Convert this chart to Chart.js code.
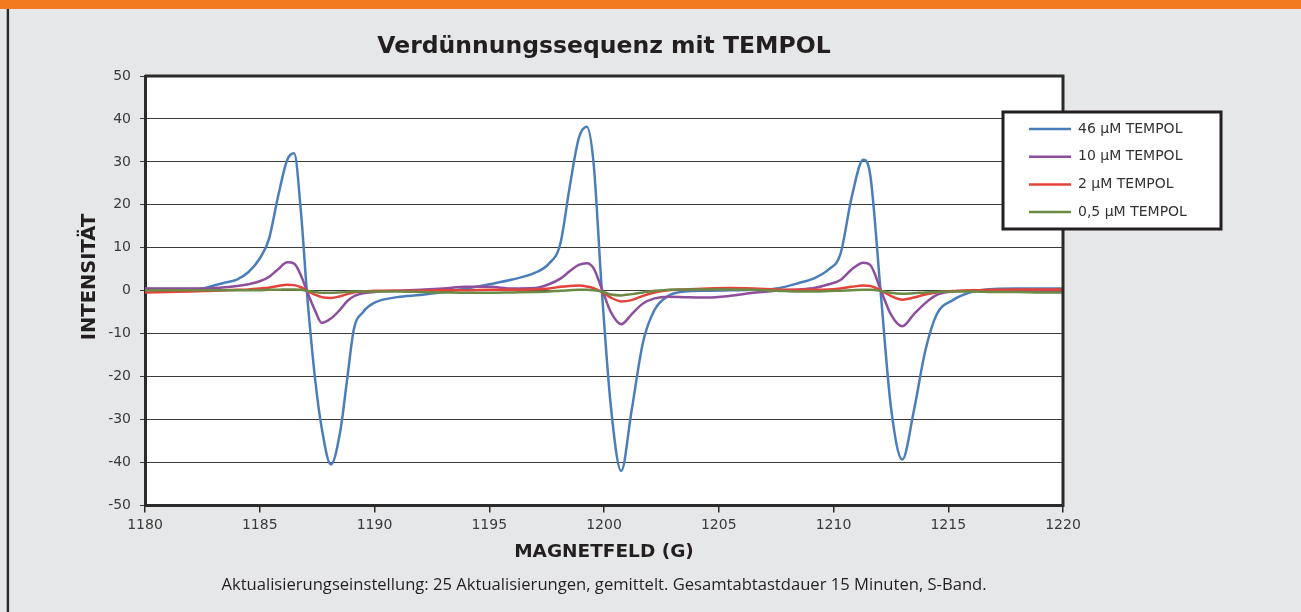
<!DOCTYPE html>
<html><head><meta charset="utf-8">
<script src="https://cdn.jsdelivr.net/npm/chart.js@4/dist/chart.umd.min.js"></script>
<style>html,body{margin:0;padding:0;background:#e6e7e8;}canvas{display:block;}</style>
</head><body>
<canvas id="c" width="1301" height="612"></canvas>
<script>
// ---- data ----
const magneticField = [1180, 1181, 1182, 1182.6, 1183, 1183.5, 1184, 1184.5, 1185, 1185.4,
  1185.8, 1186.2, 1186.5, 1186.8, 1187.05, 1187.4, 1187.7, 1188.1, 1188.5, 1188.8,
  1189.1, 1189.5, 1190, 1191, 1192, 1193, 1194, 1195, 1196, 1197,
  1197.6, 1198.1, 1198.5, 1198.9, 1199.25, 1199.55, 1199.9, 1200.3, 1200.75, 1201.2,
  1201.7, 1202.2, 1202.8, 1203.5, 1204.5, 1205.5, 1206.5, 1207.5, 1208.5, 1209.2,
  1209.8, 1210.3, 1210.8, 1211.3, 1211.6, 1212.05, 1212.5, 1213.0, 1213.5, 1214.0,
  1214.5, 1215.2, 1216, 1217, 1218, 1219, 1220];
const tempol46 = [0.4, 0.4, 0.4, 0.6, 1.2, 1.9, 2.6, 4.3, 7.5, 12,
  22, 30.5, 32, 18, 0, -20, -32, -40.5, -33, -21,
  -9, -5, -2.8, -1.5, -1.0, -0.3, 0.5, 1.5, 2.6, 4.2,
  6.3, 11, 24, 35.5, 38.2, 29.5, 0.5, -27, -42, -28,
  -12, -4.5, -1.2, -0.2, 0, 0.1, 0.2, 0.5, 1.8, 3,
  5, 8.5, 22, 30.5, 27, 0, -27, -39.3, -28, -14,
  -5.5, -2.2, -0.3, 0.4, 0.5, 0.5, 0.5];
const tempol10 = [0.5, 0.5, 0.5, 0.5, 0.6, 0.8, 1.1, 1.5, 2.2, 3.2,
  5, 6.6, 6.3, 3.5, 0, -4.5, -7.5, -6.5, -4.4, -2.5,
  -1.3, -0.6, -0.3, 0, 0.2, 0.5, 0.9, 0.9, 0.5, 0.6,
  1.5, 2.8, 4.5, 6, 6.4, 5.2, 0.5, -5, -7.8, -5.5,
  -3, -1.8, -1.4, -1.5, -1.6, -1.2, -0.5, 0, 0.3, 0.7,
  1.5, 2.5, 5, 6.5, 6, 0.3, -5.5, -8.3, -5.5, -2.9,
  -1, -0.2, 0, 0.1, 0.1, 0, 0];
const tempol2 = [-0.4, -0.3, -0.2, -0.1, 0, 0.1, 0.2, 0.3, 0.5, 0.7,
  1.1, 1.4, 1.3, 0.8, 0, -0.9, -1.5, -1.7, -1.3, -0.8,
  -0.4, -0.2, 0, 0, 0, 0.1, 0.1, 0.2, 0.2, 0.3,
  0.5, 0.9, 1.1, 1.2, 1, 0.6, -0.3, -1.6, -2.5, -2.2,
  -1.2, -0.4, 0.1, 0.3, 0.5, 0.6, 0.5, 0.3, 0.2, 0.2,
  0.3, 0.5, 0.9, 1.2, 1.1, 0.1, -1.2, -2.1, -1.6, -0.9,
  -0.4, -0.1, 0.1, 0.2, 0.3, 0.3, 0.3];
const tempol05 = [0.1, 0.1, 0.1, 0.1, 0.1, 0.1, 0.1, 0.1, 0.1, 0.2,
  0.2, 0.3, 0.3, 0.2, 0, -0.3, -0.5, -0.5, -0.4, -0.3,
  -0.2, -0.2, -0.2, -0.2, -0.3, -0.4, -0.5, -0.5, -0.4, -0.3,
  -0.2, 0, 0.1, 0.2, 0.2, 0.1, -0.2, -0.9, -1.1, -0.8,
  -0.4, 0, 0.2, 0.3, 0.3, 0.3, 0.2, 0, -0.2, -0.2,
  -0.1, 0, 0.1, 0.2, 0.2, 0, -0.5, -0.7, -0.6, -0.4,
  -0.3, -0.2, -0.2, -0.3, -0.3, -0.4, -0.4];
const seriesLabels = ['46 µM TEMPOL', '10 µM TEMPOL', '2 µM TEMPOL', '0,5 µM TEMPOL'];
const xTickValues = [1180, 1185, 1190, 1195, 1200, 1205, 1210, 1215, 1220];
const yTickValues = [-50, -40, -30, -20, -10, 0, 10, 20, 30, 40, 50];
const chartTitle = 'Verdünnungssequenz mit TEMPOL';
const xAxisTitle = 'MAGNETFELD (G)';
const yAxisTitle = 'INTENSITÄT';
const captionText = 'Aktualisierungseinstellung: 25 Aktualisierungen, gemittelt. Gesamtabtastdauer 15 Minuten, S-Band.';

// ---- styling ----
const seriesValues = [tempol46, tempol10, tempol2, tempol05];
const seriesColors = ['#4a7ebb', '#8d4f9d', '#e5433a', '#6c8a45'];
const INK = '#231f20';

const datasets = seriesValues.map((vals, i) => ({
  label: seriesLabels[i],
  data: magneticField.map((g, j) => ({x: g, y: vals[j]})),
  borderColor: seriesColors[i],
  backgroundColor: seriesColors[i],
  borderWidth: 2.5,
  pointRadius: 0,
  pointStyle: 'line',
  cubicInterpolationMode: 'monotone',
  fill: false,
  order: seriesValues.length - i
}));

const framePlugin = {
  id: 'frame',
  beforeDraw(chart) {
    const {ctx, chartArea: a} = chart;
    ctx.save();
    ctx.fillStyle = '#e6e7e8';
    ctx.fillRect(0, 0, chart.width, chart.height);
    ctx.fillStyle = '#f47a20';
    ctx.fillRect(0, 0, chart.width, 9);
    ctx.fillStyle = '#2a2a2a';
    ctx.fillRect(6.7, 9, 2.4, chart.height - 9);
    ctx.fillStyle = '#ffffff';
    ctx.fillRect(a.left, a.top, a.right - a.left, a.bottom - a.top);
    ctx.restore();
  },
  afterLayout(chart) {
    const lg = chart.legend;
    lg.left = 1015.3; lg.top = 108.3; lg.right = 1222; lg.bottom = 250;
    lg.width = lg.right - lg.left; lg.height = lg.bottom - lg.top;
  },
  afterDraw(chart) {
    const {ctx, chartArea: a} = chart;
    ctx.save();
    ctx.strokeStyle = '#2b2b2b';
    ctx.lineWidth = 3;
    ctx.beginPath();
    ctx.moveTo(a.left, a.top);
    ctx.lineTo(a.right, a.top);
    ctx.lineTo(a.right, a.bottom + 1.5);
    ctx.stroke();
    // legend frame
    ctx.fillStyle = '#ffffff';
    ctx.fillRect(1003, 112, 218, 117);
    ctx.strokeStyle = INK;
    ctx.lineWidth = 3;
    ctx.strokeRect(1003, 112, 218, 117);
    // y axis title
    ctx.translate(90, 277);
    ctx.rotate(-Math.PI / 2);
    ctx.fillStyle = INK;
    ctx.font = 'bold 19.5px "DejaVu Sans"';
    ctx.textAlign = 'center';
    ctx.textBaseline = 'middle';
    ctx.fillText(yAxisTitle, 0, 0);
    ctx.restore();
    chart.legend.draw();
  }
};

new Chart(document.getElementById('c'), {
  type: 'line',
  data: {datasets},
  plugins: [framePlugin],
  options: {
    responsive: false,
    animation: false,
    devicePixelRatio: 1,
    layout: {padding: {left: 0, right: 238, top: 0, bottom: 0}},
    plugins: {
      tooltip: {enabled: false},
      title: {
        display: true, text: chartTitle, color: INK, fullSize: false,
        font: {family: 'DejaVu Sans', size: 23.5, weight: 'bold', lineHeight: 1.2},
        padding: {top: 32.9, bottom: 14.9}
      },
      subtitle: {
        display: true, position: 'bottom', text: captionText, color: INK, fullSize: false,
        font: {family: 'Open Sans', size: 16.6, weight: 'normal', lineHeight: 1.2},
        padding: {top: 7.3, bottom: 16.4}
      },
      legend: {
        display: true, position: 'chartArea', align: 'start',
        labels: {
          color: '#333333',
          font: {family: 'DejaVu Sans', size: 14},
          usePointStyle: true, pointStyle: 'line', pointStyleWidth: 42,
          padding: 13.7,
          sort: (a, b) => a.datasetIndex - b.datasetIndex
        }
      }
    },
    scales: {
      x: {
        type: 'linear', min: 1180, max: 1220,
        afterFit(s) { s.height = 63; },
        afterBuildTicks(s) { s.ticks = xTickValues.map(v => ({value: v})); },
        ticks: {
          color: '#3a3a3a', font: {family: 'DejaVu Sans', size: 14},
          padding: 5, maxRotation: 0, autoSkip: false,
          callback: v => String(v)
        },
        grid: {drawOnChartArea: false, drawTicks: true, tickLength: 7, color: '#2b2b2b', lineWidth: 1.5},
        border: {display: true, color: '#2b2b2b', width: 3},
        title: {
          display: true, text: xAxisTitle, color: INK,
          font: {family: 'DejaVu Sans', size: 18.5, weight: 'bold', lineHeight: 1.2},
          padding: {top: 0, bottom: 4.8}
        }
      },
      y: {
        type: 'linear', min: -50, max: 50,
        afterFit(s) { s.width = 145; },
        afterBuildTicks(s) { s.ticks = yTickValues.map(v => ({value: v})); },
        ticks: {
          color: '#3a3a3a', font: {family: 'DejaVu Sans', size: 14},
          padding: 9, autoSkip: false,
          callback: v => String(v)
        },
        grid: {color: '#3b3b3b', lineWidth: 1, tickLength: 5},
        border: {display: true, color: '#2b2b2b', width: 3}
      }
    }
  }
});
</script>
</body></html>
